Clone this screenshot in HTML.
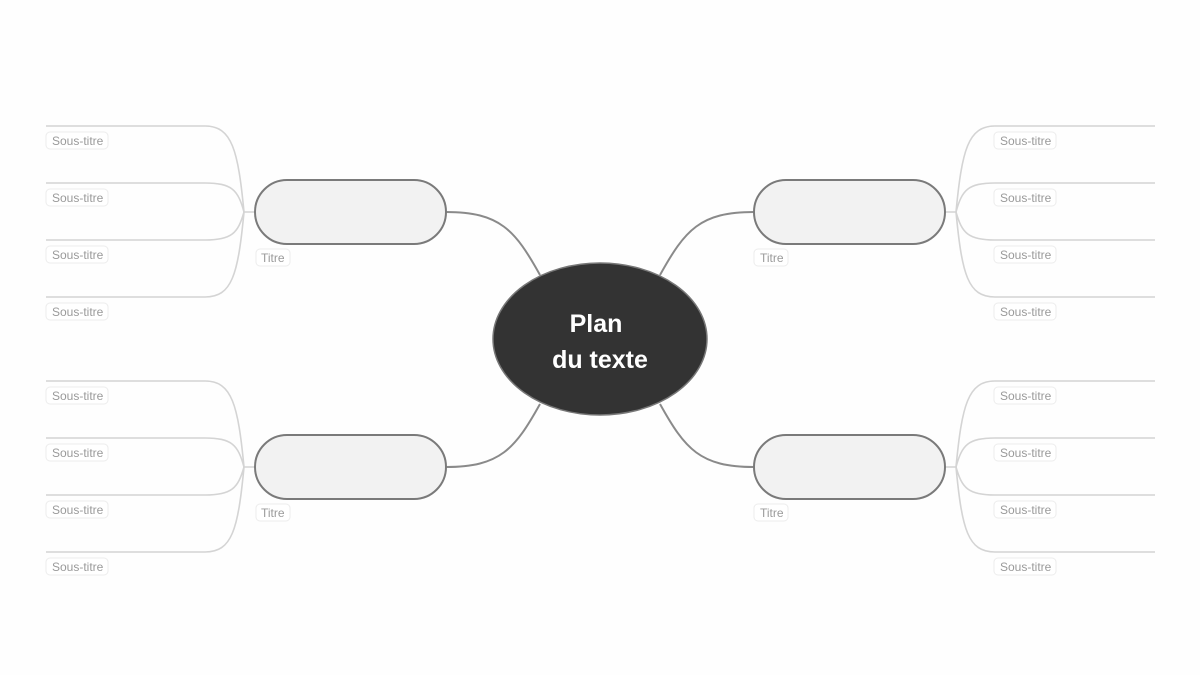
<!DOCTYPE html>
<html><head><meta charset="utf-8"><style>
html,body{margin:0;padding:0;background:#fefefe;}
svg{display:block;}
.s{fill:none;stroke:#d4d4d4;stroke-width:1.6}
.c{fill:none;stroke:#8a8a8a;stroke-width:2}
.lb{fill:#fff;stroke:#ececec;stroke-width:1}
.t{font-family:"Liberation Sans",sans-serif;font-size:12px;fill:#9a9a9a}
.pill{fill:#f2f2f2;stroke:#7a7a7a;stroke-width:2}
</style></head><body>
<svg width="1200" height="675" viewBox="0 0 1200 675" xmlns="http://www.w3.org/2000/svg">
<g class="s">
<path d="M255,212 H244 C238,150 232,126 205,126 H46"/>
<path d="M244,212 C238,190 232,183 205,183 H46"/>
<path d="M244,212 C238,233 232,240 205,240 H46"/>
<path d="M244,212 C238,275 232,297 205,297 H46"/>
<path d="M255,467 H244 C238,405 232,381 205,381 H46"/>
<path d="M244,467 C238,445 232,438 205,438 H46"/>
<path d="M244,467 C238,488 232,495 205,495 H46"/>
<path d="M244,467 C238,530 232,552 205,552 H46"/>
<path d="M945,212 H956 C962,150 968,126 995,126 H1155"/>
<path d="M956,212 C962,190 968,183 995,183 H1155"/>
<path d="M956,212 C962,233 968,240 995,240 H1155"/>
<path d="M956,212 C962,275 968,297 995,297 H1155"/>
<path d="M945,467 H956 C962,405 968,381 995,381 H1155"/>
<path d="M956,467 C962,445 968,438 995,438 H1155"/>
<path d="M956,467 C962,488 968,495 995,495 H1155"/>
<path d="M956,467 C962,530 968,552 995,552 H1155"/>
</g>
<g class="c">
<path d="M446,212 C500,212 515,230 540,275"/>
<path d="M754,212 C700,212 685,230 660,275"/>
<path d="M446,467 C500,467 515,449 540,404"/>
<path d="M754,467 C700,467 685,449 660,404"/>
</g>
<rect class="pill" x="255" y="180" width="191" height="64" rx="32"/>
<rect class="pill" x="754" y="180" width="191" height="64" rx="32"/>
<rect class="pill" x="255" y="435" width="191" height="64" rx="32"/>
<rect class="pill" x="754" y="435" width="191" height="64" rx="32"/>
<ellipse cx="600" cy="339" rx="107" ry="76" fill="#333" stroke="#777" stroke-width="1.5"/>
<text x="596" y="332" text-anchor="middle" font-family="'Liberation Sans',sans-serif" font-weight="bold" font-size="25" fill="#fff">Plan</text>
<text x="600" y="368" text-anchor="middle" font-family="'Liberation Sans',sans-serif" font-weight="bold" font-size="25" fill="#fff">du texte</text>
<g>
<rect class="lb" x="46" y="132" width="62" height="17" rx="4"/><text class="t" x="52" y="145">Sous-titre</text>
<rect class="lb" x="46" y="189" width="62" height="17" rx="4"/><text class="t" x="52" y="202">Sous-titre</text>
<rect class="lb" x="46" y="246" width="62" height="17" rx="4"/><text class="t" x="52" y="259">Sous-titre</text>
<rect class="lb" x="46" y="303" width="62" height="17" rx="4"/><text class="t" x="52" y="316">Sous-titre</text>
<rect class="lb" x="46" y="387" width="62" height="17" rx="4"/><text class="t" x="52" y="400">Sous-titre</text>
<rect class="lb" x="46" y="444" width="62" height="17" rx="4"/><text class="t" x="52" y="457">Sous-titre</text>
<rect class="lb" x="46" y="501" width="62" height="17" rx="4"/><text class="t" x="52" y="514">Sous-titre</text>
<rect class="lb" x="46" y="558" width="62" height="17" rx="4"/><text class="t" x="52" y="571">Sous-titre</text>
<rect class="lb" x="994" y="132" width="62" height="17" rx="4"/><text class="t" x="1000" y="145">Sous-titre</text>
<rect class="lb" x="994" y="189" width="62" height="17" rx="4"/><text class="t" x="1000" y="202">Sous-titre</text>
<rect class="lb" x="994" y="246" width="62" height="17" rx="4"/><text class="t" x="1000" y="259">Sous-titre</text>
<rect class="lb" x="994" y="303" width="62" height="17" rx="4"/><text class="t" x="1000" y="316">Sous-titre</text>
<rect class="lb" x="994" y="387" width="62" height="17" rx="4"/><text class="t" x="1000" y="400">Sous-titre</text>
<rect class="lb" x="994" y="444" width="62" height="17" rx="4"/><text class="t" x="1000" y="457">Sous-titre</text>
<rect class="lb" x="994" y="501" width="62" height="17" rx="4"/><text class="t" x="1000" y="514">Sous-titre</text>
<rect class="lb" x="994" y="558" width="62" height="17" rx="4"/><text class="t" x="1000" y="571">Sous-titre</text>
<rect class="lb" x="256" y="249" width="34" height="17" rx="4"/><text class="t" x="261" y="262">Titre</text>
<rect class="lb" x="754" y="249" width="34" height="17" rx="4"/><text class="t" x="760" y="262">Titre</text>
<rect class="lb" x="256" y="504" width="34" height="17" rx="4"/><text class="t" x="261" y="517">Titre</text>
<rect class="lb" x="754" y="504" width="34" height="17" rx="4"/><text class="t" x="760" y="517">Titre</text>
</g>
</svg>
</body></html>
